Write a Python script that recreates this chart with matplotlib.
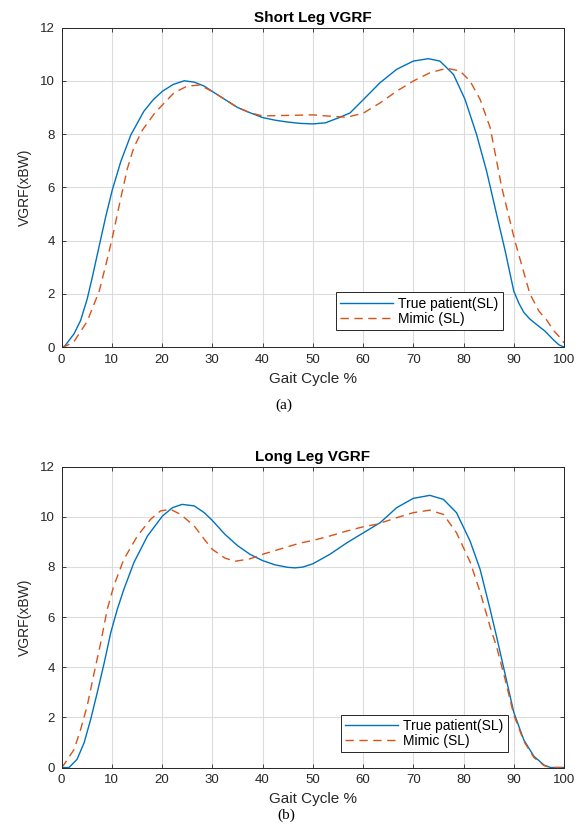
import matplotlib
matplotlib.use("Agg")
import matplotlib.pyplot as plt

plt.rcParams['font.family'] = ['Liberation Sans', 'DejaVu Sans']

# ---- data ----
# (a) Short leg
short_true_x = [0, 0.5, 2.5, 3.8, 5.1, 6.1, 7.5, 8.8, 10.1, 11.8, 13.8, 16.4, 18.3, 20.1, 22.2,
                24.4, 26.4, 28.4, 30, 32.5, 35, 37.5, 40, 42.5, 45, 47.5, 50, 52.5, 55, 57.4,
                60.1, 63.4, 66.7, 70, 73, 75.3, 78, 80.3, 82.6, 84.6, 86.6, 88.3, 90, 91,
                92, 93.2, 94.5, 96.2, 98, 99, 100]
short_true_y = [0, 0, 0.5, 1.0, 1.8, 2.6, 3.8, 4.9, 5.9, 6.97, 7.97, 8.86, 9.3, 9.61, 9.86,
                10.0, 9.95, 9.8, 9.6, 9.3, 9.0, 8.8, 8.62, 8.52, 8.45, 8.4, 8.38, 8.42, 8.6, 8.79,
                9.3, 9.93, 10.43, 10.74, 10.83, 10.74, 10.24, 9.3, 7.98, 6.6, 4.97, 3.6, 2.1, 1.65,
                1.3, 1.05, 0.85, 0.6, 0.25, 0.08, 0]

short_mimic_x = [0, 1, 2.5, 5.1, 7.5, 9.1, 10.1, 11.8, 13.1, 14.4, 16.1, 18.4, 20.1, 22.4, 25,
                 27.5, 30, 32.5, 35, 37.5, 40, 45, 50, 53.4, 56.8, 60.1, 63.4, 66.7, 70, 73.3,
                 76.6, 79.3, 81.3, 83.3, 85.3, 87.6, 90.2, 93.2, 95, 96.6, 98, 99.5, 100]
short_mimic_y = [0, 0.05, 0.21, 0.96, 2.1, 3.3, 4.1, 5.6, 6.7, 7.5, 8.15, 8.75, 9.1, 9.55, 9.8,
                 9.84, 9.6, 9.3, 9.0, 8.8, 8.68, 8.7, 8.72, 8.67, 8.63, 8.79, 9.17, 9.61, 9.99, 10.3,
                 10.47, 10.37, 9.99, 9.3, 8.24, 6.0, 4.0, 2.0, 1.35, 1.0, 0.6, 0.3, 0.15]

# (b) Long leg
long_true_x = [0, 1.5, 3.1, 4.5, 5.8, 7.1, 8.5, 9.8, 11.1, 12.4, 14.4, 17.1, 20.1, 22.1, 24,
               26.4, 28.4, 30, 32.5, 35, 37.5, 40, 42.5, 45, 46.5, 48, 50, 53.4, 56.8, 60.1,
               63.4, 66.7, 70, 73.3, 76, 78.6, 81.3, 83.3, 85.3, 86.6, 88.3, 90, 92, 94, 96,
               97.3, 100]
long_true_y = [0, 0, 0.33, 0.99, 1.92, 2.98, 4.18, 5.38, 6.31, 7.1, 8.17, 9.23, 10.03, 10.36, 10.49,
               10.43, 10.16, 9.85, 9.3, 8.85, 8.5, 8.25, 8.08, 7.98, 7.96, 7.99, 8.12, 8.5, 8.96, 9.36,
               9.76, 10.36, 10.73, 10.85, 10.69, 10.16, 9.03, 7.9, 6.3, 5.2, 3.7, 2.2, 1.1, 0.45, 0.1,
               0, 0]

long_mimic_x = [0, 0.5, 2.5, 3.8, 5.1, 6.5, 7.8, 9.1, 10.4, 12.4, 15.1, 17.7, 19.7, 21.7, 23.7,
                26.4, 28.4, 30, 32.5, 34.5, 37.5, 40, 42.5, 45, 47.5, 50, 53.4, 56.8, 60.1, 62.8,
                66.7, 70, 73.3, 76, 78.6, 81.3, 83.3, 85.3, 86.6, 88.3, 90, 92, 94, 96, 97.3, 100]
long_mimic_y = [0, 0.12, 0.72, 1.52, 2.45, 3.78, 4.98, 6.31, 7.24, 8.3, 9.23, 9.89, 10.23, 10.29, 10.09,
                9.63, 9.1, 8.7, 8.35, 8.22, 8.32, 8.5, 8.65, 8.8, 8.95, 9.05, 9.23, 9.43, 9.6, 9.7,
                9.96, 10.16, 10.26, 10.09, 9.36, 8.2, 7.0, 5.6, 4.8, 3.5, 2.1, 1.05, 0.4, 0.08, 0, 0]

xticks = [0, 10, 20, 30, 40, 50, 60, 70, 80, 90, 100]
yticks = [0, 2, 4, 6, 8, 10, 12]
titles = ["Short Leg VGRF", "Long Leg VGRF"]
captions = ["(a)", "(b)"]
labels = ["True patient(SL)", "Mimic (SL)"]

BLUE = "#0072BD"
ORANGE = "#D95319"
DARK = "#262626"

fig = plt.figure(figsize=(5.86, 8.32), dpi=100)
ax1 = fig.add_axes([0.105, 0.5829, 0.8575, 0.384])
ax2 = fig.add_axes([0.105, 0.0775, 0.8575, 0.3618])

panels = [
    (ax1, (short_true_x, short_true_y), (short_mimic_x, short_mimic_y), (0.546, 0.053), -0.078),
    (ax2, (long_true_x, long_true_y), (long_mimic_x, long_mimic_y), (0.556, 0.050), -0.081),
]

for i, (ax, tr, mi, lpos, xly) in enumerate(panels):
    ax.plot(tr[0], tr[1], color=BLUE, lw=1.0, label=labels[0])
    ax.plot(mi[0], mi[1], color=ORANGE, lw=1.0, ls=(0, (6, 4)), label=labels[1])
    ax.set_xlim(0, 100)
    ax.set_ylim(0, 12)
    ax.set_xticks(xticks)
    ax.set_yticks(yticks)
    ax.grid(True, color="#dcdcdc", lw=0.8)
    ax.tick_params(direction="in", top=True, right=True, length=3, pad=5,
                   labelsize=9.5, colors=DARK, width=0.6)
    for s in ax.spines.values():
        s.set_color(DARK)
        s.set_linewidth(0.7)
    ax.set_title(titles[i], fontsize=11, fontweight="bold", pad=4)
    ax.set_xlabel("Gait Cycle %", fontsize=11, color=DARK)
    ax.set_ylabel("VGRF(xBW)", fontsize=10, color=DARK)
    ax.xaxis.set_label_coords(0.5, xly)
    ax.yaxis.set_label_coords(-0.058, 0.5)
    leg = ax.legend(loc="lower left", bbox_to_anchor=lpos, fontsize=10,
                    handlelength=3.8, fancybox=False, framealpha=1,
                    edgecolor=DARK, borderpad=0.3, labelspacing=0.1,
                    handletextpad=0.4, borderaxespad=0)
    leg.get_frame().set_linewidth(0.7)

fig.text(284 / 586, 1 - 405 / 832, captions[0], ha="center", va="center",
         fontsize=11, family=["Liberation Serif", "DejaVu Serif"])
fig.text(286 / 586, 1 - 815 / 832, captions[1], ha="center", va="center",
         fontsize=11, family=["Liberation Serif", "DejaVu Serif"])

fig.savefig("out.png", dpi=100)
